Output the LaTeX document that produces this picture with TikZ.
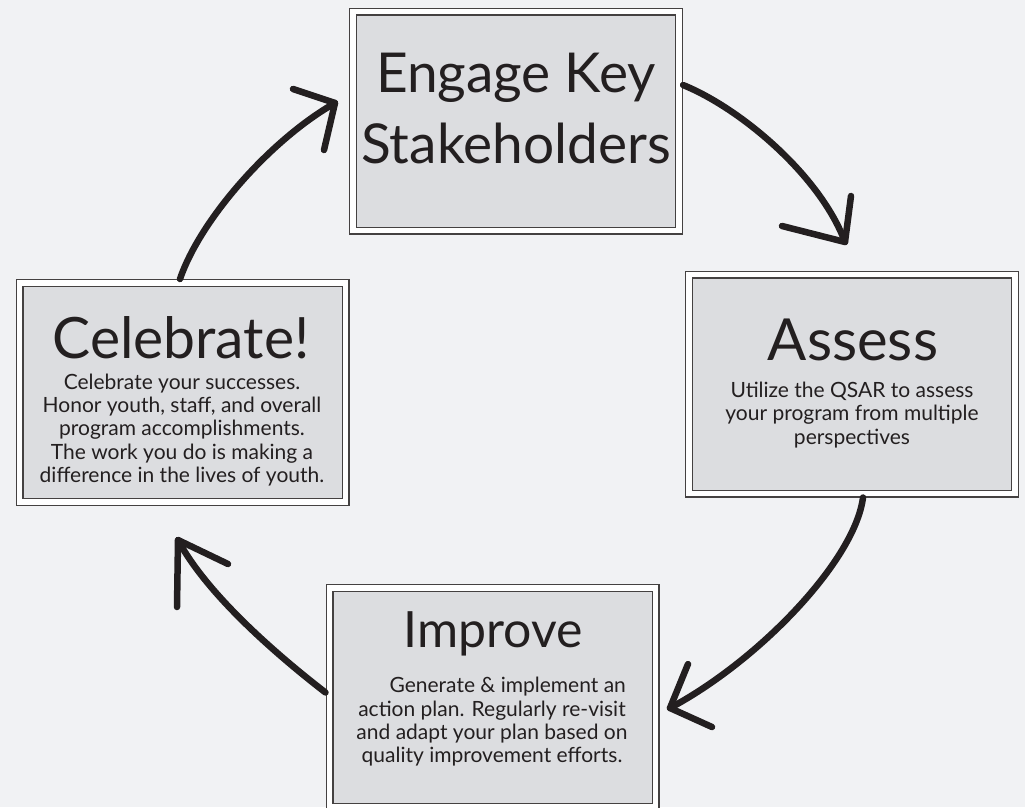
\documentclass[tikz,border=0pt]{standalone}
\usepackage{fontspec}
\setmainfont{Lato}
\usetikzlibrary{positioning}
\definecolor{paper}{HTML}{F1F2F4}
\definecolor{boxgray}{HTML}{DCDDE0}
\definecolor{ink}{HTML}{231F20}
\tikzset{
  stage/.style={rectangle, draw=ink!85, line width=1.3pt, double=white,
    double distance=5.4pt, fill=boxgray, minimum width=326pt,
    minimum height=219pt, inner sep=0pt, outer sep=4pt},
  headline/.style={font=\fontsize{55}{71}\selectfont, text=ink, align=center, inner sep=0pt},
  blurb/.style={font=\fontsize{21}{23.3}\selectfont, text=ink, align=center, inner sep=0pt},
  brush/.style={draw=ink, line width=6.5pt, line cap=round, line join=round},
}
\begin{document}
\begin{tikzpicture}[x=1pt,y=-1pt]
\useasboundingbox (0,0) rectangle (1025,807);
\clip (0,0) rectangle (1025,807);
\fill [paper] (0,0) rectangle (1025,807);
% the four stages
\node [stage] (engage) at (516,121) {};
\node [stage] (celebrate) at (182.5,392.5) {};
\node [stage] (assess) at (852,384) {};
\node [stage] (improve) at (492.5,697.5) {};
% titles
\node [headline] (engageT) at (516,109) {Engage Key\\Stakeholders};
\node [headline, anchor=base, font=\fontsize{57}{60}\selectfont] (celebrateT) at (181,358) {Celebrate!};
\node [headline, anchor=base, font=\fontsize{58}{60}\selectfont] (assessT) at (853,360) {Assess};
\node [headline, anchor=base, font=\fontsize{50}{60}\selectfont] (improveT) at (493,647) {Improve};
% texts
\node [blurb] (celebrateB) at (182,430) {Celebrate your successes.\\Honor youth, staff, and overall\\program accomplishments.\\The work you do is making a\\difference in the lives of youth.};
\node [blurb] (assessB) at (852,415) {Utilize the QSAR to assess\\your program from multiple\\perspectives};
\node [blurb] (improveB) at (492,722) {\hspace*{1.5em}Generate \& implement an\\action plan. Regularly re-visit\\and adapt your plan based on\\quality improvement efforts.};
% arrows
\coordinate (tip1) at (845,242);
\coordinate (tip2) at (670,708);
\coordinate (tip3) at (178,540);
\coordinate (tip4) at (335,103);
\draw [brush] ([yshift=36pt]engage.east) .. controls (740,108) and (820,175) .. (tip1);
\draw [brush] (tip1) ++(-63,-16) -- (tip1) -- ++(6,-46);
\draw [brush] ([xshift=11pt]assess.south) .. controls (855,560) and (760,660) .. (tip2);
\draw [brush] (tip2) ++(18,-44) -- (tip2) -- ++(42,19);
\draw [brush] ([yshift=5pt]improve.west) .. controls (290,665) and (210,600) .. (tip3);
\draw [brush] (tip3) ++(-1,67) -- (tip3) -- ++(50,24);
\draw [brush] ([xshift=-2.5pt]celebrate.north) .. controls (200,220) and (270,140) .. (tip4);
\draw [brush] (tip4) ++(-42,-14) -- (tip4) -- ++(-11,47);
\end{tikzpicture}
\end{document}
